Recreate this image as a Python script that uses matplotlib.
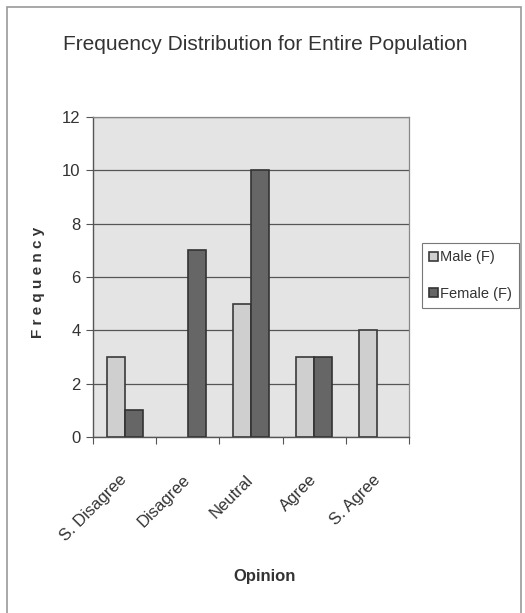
import matplotlib
matplotlib.use('Agg')
import matplotlib.pyplot as plt
import numpy as np
from matplotlib.patches import Rectangle

categories = ['S. Disagree', 'Disagree', 'Neutral', 'Agree', 'S. Agree']
male = [3, 0, 5, 3, 4]
female = [1, 7, 10, 3, 0]
series_names = ['Male (F)', 'Female (F)']
yticks = [0, 2, 4, 6, 8, 10, 12]

FONT = ['Liberation Sans Narrow', 'Liberation Sans', 'DejaVu Sans']
plt.rcParams['font.family'] = FONT

W, H = 525, 613
fig = plt.figure(figsize=(W / 100, H / 100), dpi=100)
fig.patch.set_facecolor('white')

# plot area in pixels: x 93..409, y 117..437
ax = fig.add_axes([93 / W, 1 - 437 / H, (409 - 93) / W, (437 - 117) / H])
ax.set_facecolor('#e4e4e4')

x = np.arange(len(categories))
bw = 0.285
mb = ax.bar(x - bw / 2, male, bw, color='#cfcfcf', edgecolor='#3a3a3a',
            linewidth=1.2, label=series_names[0], zorder=3)
fb = ax.bar(x + bw / 2, female, bw, color='#666666', edgecolor='#333333',
            linewidth=1.2, label=series_names[1], zorder=3)
for rect in list(mb) + list(fb):
    if rect.get_height() == 0:
        rect.set_visible(False)

ax.set_xlim(-0.5, len(categories) - 0.5)
ax.set_ylim(0, 12)
ax.set_yticks(yticks)
ax.yaxis.grid(True, color='#555555', linewidth=0.9, zorder=1)
ax.set_axisbelow(True)

ax.set_xticks(np.arange(len(categories) + 1) - 0.5, minor=False)
ax.set_xticklabels([''] * (len(categories) + 1))
ax.set_xticks(x, minor=True)
ax.set_xticklabels(categories, minor=True, rotation=45, ha='right', va='center',
                   rotation_mode='anchor', fontsize=12, color='#333333')
ax.tick_params(axis='x', which='minor', length=0, pad=29)
ax.tick_params(axis='x', which='major', length=5, direction='out', color='#555555')
ax.tick_params(axis='y', length=5, direction='out', color='#555555',
               labelsize=12, labelcolor='#333333', pad=4)

for side in ['top', 'right']:
    ax.spines[side].set_color('#888888')
    ax.spines[side].set_linewidth(0.9)
for side in ['left', 'bottom']:
    ax.spines[side].set_color('#555555')
    ax.spines[side].set_linewidth(1.0)

fig.text(265 / W, 1 - 45 / H, 'Frequency Distribution for Entire Population',
         ha='center', va='center', fontsize=15, color='#333333')
fig.text(38 / W, 1 - 282 / H, 'F r e q u e n c y', rotation=90, ha='center',
         va='center', fontsize=11, fontweight='bold', color='#333333')
fig.text(265 / W, 1 - 577 / H, 'Opinion', ha='center', va='center',
         fontsize=12, fontweight='bold', color='#333333')

leg = fig.legend(loc='upper left', bbox_to_anchor=(422 / W, 1 - 243 / H),
                 frameon=True, fancybox=False, fontsize=10.5, handlelength=0.6,
                 handleheight=0.6, handletextpad=0.15, borderpad=0.5,
                 labelspacing=1.55, borderaxespad=0)
leg.get_frame().set_edgecolor('#555555')
leg.get_frame().set_linewidth(0.8)
for t in leg.get_texts():
    t.set_color('#333333')

# outer chart frame
fig.add_artist(Rectangle((7 / W, -0.01), (521 - 7) / W, 1 - 7 / H + 0.01,
                         transform=fig.transFigure, fill=False,
                         edgecolor='#999999', linewidth=1.2))

fig.savefig('out.png', dpi=100, facecolor='white')
